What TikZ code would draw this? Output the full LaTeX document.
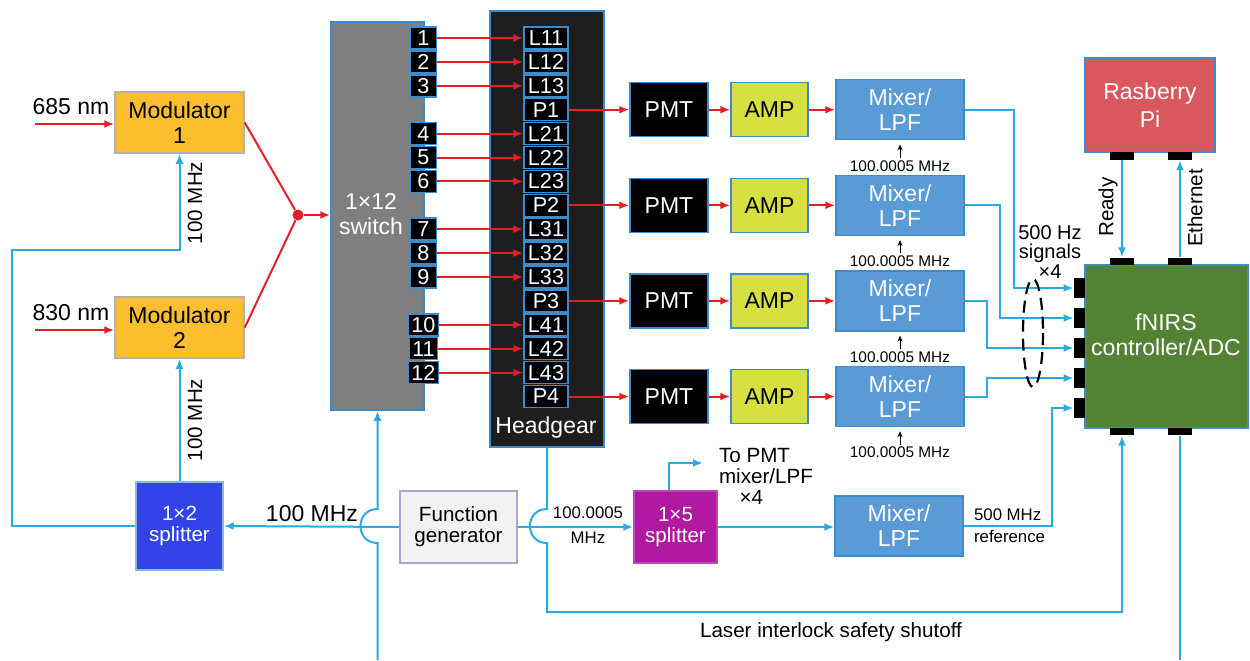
\documentclass[tikz,border=0pt]{standalone}
\usepackage{fontspec}
\setmainfont{Liberation Sans}
\usepackage{tikz}
\usetikzlibrary{arrows.meta}
\definecolor{sigblue}{RGB}{41,171,226}
\definecolor{laserred}{RGB}{228,30,38}
\definecolor{edgeblue}{RGB}{58,140,205}
\definecolor{modorange}{RGB}{251,190,46}
\definecolor{switchgray}{RGB}{127,127,127}
\definecolor{headblack}{RGB}{30,30,30}
\definecolor{ampgreen}{RGB}{214,224,64}
\definecolor{mixblue}{RGB}{91,155,213}
\definecolor{pired}{RGB}{217,88,94}
\definecolor{adcgreen}{RGB}{84,130,53}
\definecolor{splitblue}{RGB}{50,68,232}
\definecolor{splitpurple}{RGB}{176,24,160}
\definecolor{fggray}{RGB}{242,242,242}
\definecolor{fgedge}{RGB}{165,165,215}
\newcommand{\fbig}{\fontsize{11.5}{12.5}\selectfont}
\newcommand{\fmid}{\fontsize{10.3}{10.5}\selectfont}
\newcommand{\ftight}{\fontsize{10}{9.6}\selectfont}
\newcommand{\fport}{\fontsize{10.8}{11}\selectfont}
\newcommand{\fsmall}{\fontsize{8.4}{11}\selectfont}
\newcommand{\ftiny}{\fontsize{7.7}{9}\selectfont}

\begin{document}
\begin{tikzpicture}[x=0.5pt,y=-0.5pt,
  box/.style={draw=edgeblue,line width=0.75pt,inner sep=0pt,align=center,font=\fbig},
  port/.style={box,fill=black,text=white,font=\fport,minimum width=13pt,minimum height=11pt,inner xsep=1.5pt},
  lbox/.style={port,minimum width=22pt},
  mixer/.style={box,fill=mixblue,text=white,minimum width=64pt,minimum height=30pt},
  pad/.style={fill=black,inner sep=0pt,minimum width=12pt,minimum height=3.75pt},
  laserline/.style={draw=laserred,line width=1pt},
  laser/.style={laserline,-{Latex[length=5pt,width=4pt]}},
  sig/.style={draw=sigblue,line width=1pt},
  sigarr/.style={sig,-{Latex[length=5pt,width=4pt]}}]
\useasboundingbox (0,0) rectangle (1250,660);
\node[box,fill=modorange,draw=black!30,minimum width=64.5pt,minimum height=30.5pt] (mod1) at (179.5,122.5) {Modulator\\1};
\node[box,fill=modorange,draw=black!30,minimum width=64.5pt,minimum height=30.5pt] (mod2) at (179.5,327.5) {Modulator\\2};
\coordinate (src1) at (35,124);
\coordinate (src2) at (35,330);
\node[font=\fbig] (nm1) at (71,107) {685 nm};
\node[font=\fbig] (nm2) at (71,313) {830 nm};
\draw[laser] (src1) -- (src1 -| mod1.west);
\draw[laser] (src2) -- (src2 -| mod2.west);
\node[circle,fill=laserred,inner sep=0pt,minimum size=5.5pt] (comb) at (298,215) {};
\draw[laserline] (mod1.east) -- (comb);
\draw[laserline] (mod2.east) -- (comb);
\node[box,fill=switchgray,minimum width=46.5pt,minimum height=194pt] (sw) at (377.5,216) {};
\node[font=\fbig,text=white,align=center] (swtxt) at (371,214) {1×12\\switch};
\draw[laser] (comb) -- (comb -| sw.west);
\node[box,fill=headblack,minimum width=57pt,minimum height=218pt] (head) at (547,229) {};
\node[font=\fbig,text=white] (headtxt) at (546,428) {Headgear};
\foreach \r/\t in {1/L11,2/L12,3/L13,4/P1,5/L21,6/L22,7/L23,8/P2,9/L31,10/L32,11/L33,12/P3,13/L41,14/L42,15/L43,16/P4}
  \node[lbox] (\t) at (546,{38+23.9*(\r-1)}) {\t};
\foreach \n/\r/\t in {1/1/L11,2/2/L12,3/3/L13,4/5/L21,5/6/L22,6/7/L23,7/9/L31,8/10/L32,9/11/L33,10/13/L41,11/14/L42,12/15/L43}{
  \node[port] (p\n) at (423.5,{38+23.9*(\r-1)}) {\n};
  \draw[laser] (p\n.east) -- (\t.west);
}
\foreach \k/\r in {1/4,2/8,3/12,4/16}{
  \node[box,fill=black,text=white,minimum width=39pt,minimum height=27pt] (pmt\k) at (669,{38+23.9*(\r-1)}) {PMT};
  \node[box,fill=ampgreen,minimum width=38.5pt,minimum height=27pt] (amp\k) at (769.5,{38+23.9*(\r-1)}) {AMP};
  \node[mixer] (mix\k) at (900,{38+23.9*(\r-1)}) {Mixer/\\LPF};
  \node[font=\ftiny,inner sep=1pt] (lo\k) at (900,{94+23.9*(\r-1)}) {100.0005 MHz};
  \draw[laser] (P\k.east) -- (pmt\k.west);
  \draw[laser] (pmt\k) -- (amp\k);
  \draw[laser] (amp\k) -- (mix\k);
  \draw[-{Stealth[length=3pt,width=2.5pt]},shorten >=2pt] (lo\k.north) -- (mix\k.south);
}
\node[box,fill=adcgreen,minimum width=81.5pt,minimum height=81.5pt] (adc) at (1166.5,346.5) {};
\node[font=\fbig,text=white,align=center] (adctxt) at (1166,335) {fNIRS\\controller/ADC};
\node[box,fill=pired,text=white,minimum width=65pt,minimum height=47pt,font=\fontsize{11.5}{14}\selectfont] (rpi) at (1150,105) {Rasberry\\Pi};
\foreach \k in {1,...,5}
  \node[fill=black,inner sep=0pt,minimum width=5.5pt,minimum height=10pt] (fin\k) at (1079.5,{288+30*(\k-1)}) {};
\foreach \k/\px in {1/1122,2/1180}{
  \node[pad] (ftop\k) at (\px,261.5) {};
  \node[pad] (fbot\k) at (\px,431.5) {};
  \node[pad] (rbot\k) at (\px,156) {};
}
\draw[sigarr] (rbot1.south) -- (ftop1.north);
\draw[sigarr] (ftop2.north) -- (rbot2.south);
\node[font=\fmid,rotate=90] (ready) at (1108,207) {Ready};
\node[font=\fmid,rotate=90] (eth) at (1195,208) {Ethernet};
\foreach \k/\d in {1/49,2/35,3/22,4/22}
  \draw[sigarr] (mix\k.east) -- ++(\d,0) |- (fin\k.west);
\draw[line width=1.1pt,dash pattern=on 6pt off 3.5pt] (1033,333) ellipse (10 and 54);
\node[font=\ftight,align=center] (sigs) at (1050,252) {500 Hz\\signals\\×4};
\node[box,fill=fggray,draw=fgedge,font=\fmid,minimum width=58.5pt,minimum height=36pt] (fg) at (458.5,527) {Function\\generator};
\node[box,fill=splitblue,draw=edgeblue!60,text=white,font=\fmid,minimum width=43.5pt,minimum height=44pt] (spl2) at (179.5,526) {1×2\\splitter};
\node[box,fill=splitpurple,draw=splitpurple!80,text=white,font=\fmid,minimum width=41.5pt,minimum height=36pt] (spl5) at (675.5,527) {1×5\\splitter};
\node[mixer] (mixr) at (899,526) {Mixer/\\LPF};
\draw[sigarr] (fg.west) -- (spl2.east);
\node[font=\fbig] (f100) at (312,514) {100 MHz};
\draw[sigarr] (spl2.west) -| (12,250) -| (mod1.south);
\draw[sigarr] (spl2.north) -- (mod2.south);
\node[font=\fmid,rotate=90] (f100a) at (195,203) {100 MHz};
\node[font=\fmid,rotate=90] (f100b) at (195,420) {100 MHz};
\draw[sigarr] (fg.east) -- (spl5.west);
\node[font=\fsmall] (flo) at (588,513) {100.0005};
\node[font=\fsmall] (flob) at (588,538) {MHz};
\coordinate (topmt) at (703,463);
\draw[sigarr] ([xshift=-3.25pt]spl5.north) |- (topmt);
\node[font=\fmid,align=left,anchor=west] (tolbl) at (712,476) {To PMT\\mixer/LPF\\\hspace*{1em}×4};
\draw[sigarr] (spl5.east) -- (spl5.east -| mixr.west);
\draw[sigarr] (mixr.east) -- ++(88,0) |- (fin5.west);
\node[font=\fsmall,align=left,anchor=west] (reflbl) at (967,526) {500 MHz\\reference};
\coordinate (bot1) at (377.5,660);
\draw[sigarr] (bot1) -- (377.5,543) .. controls (354.8,543) and (354.8,509) .. (377.5,509) -- (sw.south);
\draw[sigarr] (head.south) -- (547,509) .. controls (524.3,509) and (524.3,543) .. (547,543) -- (547,612) -| (fbot1.south);
\node[font=\fmid] (interlock) at (831,632) {Laser interlock safety shutoff};
\coordinate (bot2) at (1180,660);
\draw[sig] (fbot2.south) -- (bot2);
\end{tikzpicture}
\end{document}
